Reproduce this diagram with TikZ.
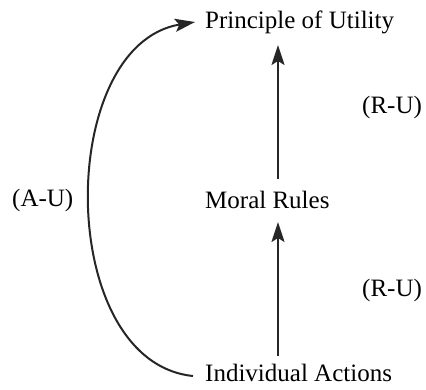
\documentclass[tikz,border=0pt]{standalone}
\usepackage{fontspec}
\setmainfont{Liberation Serif}
\usetikzlibrary{arrows.meta, positioning}

\begin{document}
\begin{tikzpicture}[
  x=1pt, y=-1pt,
  label/.style={font=\fontsize{25}{30}\selectfont, inner sep=0pt, anchor=west},
  arr/.style={-{Stealth[length=20pt, width=13pt, inset=4pt]}, line width=2pt, draw=black!85}
]
\useasboundingbox (0,0) rectangle (426,389);
\node[label] (pou) at (205,22) {Principle of Utility};
\node[label] (mr) at (205,200) {Moral Rules};
\node[label] (ia) at (205,373) {Individual Actions};
\node[label] (ru1) at (362,107) {(R-U)};
\node[label] (ru2) at (362,290) {(R-U)};
\node[label] (au) at (12,200) {(A-U)};
% ends of the two upward arrows
\coordinate (ia top) at (278,356);
\coordinate (mr bot) at (278,222);
\coordinate (mr top) at (278,179);
\coordinate (pou bot) at (278,45);

\draw[arr] (ia top) -- (mr bot);
\draw[arr] (mr top) -- (pou bot);
\draw[arr] ([xshift=-12pt,yshift=-3pt]ia.west) .. controls (55,362) and (55,45) .. ([xshift=-10pt]pou.west);
\end{tikzpicture}
\end{document}
